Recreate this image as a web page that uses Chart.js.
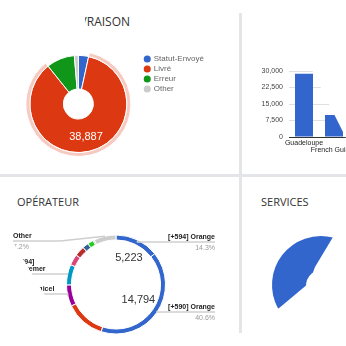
<!DOCTYPE html>
<html>
<head>
<meta charset="utf-8">
<script src="https://cdn.jsdelivr.net/npm/chart.js@4.4.1/dist/chart.umd.min.js"></script>
<style>
  html, body { margin: 0; padding: 0; width: 346px; height: 346px; overflow: hidden; background: #fff; }
  canvas { position: absolute; }
  .title { position: absolute; font-family: 'Open Sans', sans-serif; font-size: 11px; line-height: 16px; color: #333; white-space: nowrap; }
  .band-h { position: absolute; left: 0; top: 174px; width: 346px; height: 3px; background: #e3e5e8; }
  .band-v { position: absolute; left: 239px; top: 13px; width: 3px; height: 320px; background: #e3e5e8; }
  #paysWrap { position: absolute; left: 242px; top: 0; width: 104px; height: 174px; overflow: hidden;
              clip-path: polygon(0 0, 35px 0, 122px 174px, 0 174px); }
</style>
</head>
<body>

<div class="band-h"></div>
<div class="band-v"></div>

<div class="title" style="left:70px; top:14px; font-size:12px; clip-path: inset(0 0 0 15px);">LIVRAISON</div>
<canvas id="livraison" style="left:14px; top:51px;" width="200" height="106"></canvas>

<div id="paysWrap">
  <canvas id="pays" style="left:0; top:60px;" width="107" height="102"></canvas>
</div>

<div class="title" style="left:17px; top:194px;">OPÉRATEUR</div>
<canvas id="operateur" style="left:0; top:177px; clip-path: polygon(-26px 0, 238px 0, 238px 169px, 75px 169px);" width="238" height="169"></canvas>

<div class="title" style="left:261px; top:194px;">SERVICES</div>
<canvas id="services" style="left:262px; top:226px; clip-path: polygon(0 0, 74px 0, 71px 11px, 53px 41px, 47px 57px, 16px 83px, 0 99px);" width="118" height="118"></canvas>

<script>
// statut de livraison
const statutLabels = ['Statut-Envoyé', 'Livré', 'Erreur', 'Other'];
const statutValues = [1540, 38887, 4260, 600];
const statutColors = ['#3366cc', '#dc3912', '#109618', '#cccccc'];

// pays
const paysLabels = ['Guadeloupe', 'French Guiana'];
const paysValues = [28700, 10000];
const paysTicks = [0, 7500, 15000, 22500, 30000];

// opérateurs
const opLabels = ['[+594] Orange', '[+590] Orange', '[+590] SFR', '[+590] Digicel', '[+594] Outremer',
                  '[+594] Digicel', '[+590] Outremer', '[+594] SFR', '[+590] Dauphin', '[+596] Orange', 'Other'];
const opValues = [5223, 14794, 4740, 2550, 2440, 1310, 1200, 730, 700, 157, 2626];
const opColors = ['#3366cc', '#3366cc', '#dc3912', '#990099', '#0099c6', '#dd4477',
                  '#b82e2e', '#316395', '#22cc22', '#999999', '#cccccc'];

// services
const servLabels = ['SMS', 'Autres'];
const servValues = [37, 63];
const servColors = ['#3366cc', 'rgba(0,0,0,0)'];

const fmt = v => v.toLocaleString('en-US');

// texte dans les parts + étiquettes avec traits
const sliceLabels = {
    id: 'sliceLabels',
    afterDatasetsDraw(chart, args, opts) {
        const ds = opts.dataset || 0;
        const meta = chart.getDatasetMeta(ds);
        const data = chart.data.datasets[ds].data;
        const total = data.reduce((a, b) => a + b, 0);
        const ctx = chart.ctx;
        ctx.save();
        ctx.textBaseline = 'middle';

        (opts.inner || []).forEach(item => {
            const p = meta.data[item.index].getProps(['x', 'y', 'startAngle', 'endAngle', 'outerRadius'], true);
            const mid = (p.startAngle + p.endAngle) / 2;
            const r = p.outerRadius * item.r;
            ctx.font = item.font;
            ctx.fillStyle = item.color;
            ctx.textAlign = 'center';
            ctx.fillText(fmt(data[item.index]), p.x + Math.cos(mid) * r, p.y + Math.sin(mid) * r);
        });

        (opts.outer || []).forEach(item => {
            const p = meta.data[item.index].getProps(['x', 'y', 'startAngle', 'endAngle', 'outerRadius'], true);
            const mid = (p.startAngle + p.endAngle) / 2;
            const ax = p.x + Math.cos(mid) * p.outerRadius;
            const ay = p.y + Math.sin(mid) * p.outerRadius;
            ctx.strokeStyle = '#cfcfcf';
            ctx.lineWidth = 1.5;
            ctx.beginPath();
            ctx.moveTo(ax, ay);
            ctx.lineTo(item.elbow !== undefined ? item.elbow : ax, item.lineY);
            ctx.lineTo(item.x, item.lineY);
            ctx.stroke();

            ctx.textAlign = item.side === 'right' ? 'right' : 'left';
            const name = chart.data.labels[item.index];
            const lines = item.wrap ? [name.slice(0, name.indexOf(' ')), name.slice(name.indexOf(' ') + 1)] : [name];
            ctx.font = 'bold 7px "Liberation Sans", Arial, sans-serif';
            ctx.fillStyle = '#222';
            lines.forEach((ln, k) => ctx.fillText(ln, item.x, item.lineY - 5 - (lines.length - 1 - k) * 7));
            ctx.font = '7px "Liberation Sans", Arial, sans-serif';
            ctx.fillStyle = '#999';
            ctx.fillText((data[item.index] / total * 100).toFixed(1) + '%', item.x, item.lineY + 6);
        });
        ctx.restore();
    }
};

// 1. LIVRAISON
new Chart(document.getElementById('livraison'), {
    type: 'doughnut',
    plugins: [sliceLabels],
    data: {
        labels: statutLabels,
        datasets: [{
            data: statutValues,
            backgroundColor: statutColors.map((c, i) => i === 1 ? '#f6c9c1' : 'rgba(0,0,0,0)'),
            borderColor: statutColors.map((c, i) => i === 1 ? '#fff' : 'rgba(0,0,0,0)'),
            borderWidth: 1,
            weight: 4
        }, {
            data: statutValues,
            backgroundColor: statutColors,
            borderColor: '#fff',
            borderWidth: 1,
            weight: 34
        }]
    },
    options: {
        responsive: false,
        animation: false,
        cutout: 15,
        hoverOffset: 0,
        offset: 0,
        plugins: {
            tooltip: { enabled: false },
            legend: {
                position: 'right',
                align: 'start',
                title: { display: true, text: '', font: { size: 2, lineHeight: 1 }, padding: 0 },
                labels: {
                    usePointStyle: true,
                    boxWidth: 5,
                    boxHeight: 5,
                    padding: 2,
                    color: '#222',
                    font: { size: 8, family: '"Liberation Sans", Arial, sans-serif' },
                    generateLabels: () => statutLabels.map((text, i) => ({
                        text, fillStyle: statutColors[i], strokeStyle: statutColors[i],
                        lineWidth: 0, pointStyle: 'circle', hidden: false, index: i
                    }))
                }
            },
            sliceLabels: {
                dataset: 1,
                inner: [{ index: 1, r: 0.69, color: '#fff', font: '11px "Liberation Sans", Arial, sans-serif' }]
            }
        }
    }
});

// 2. PAYS (barres)
new Chart(document.getElementById('pays'), {
    type: 'bar',
    data: {
        labels: paysLabels,
        datasets: [{
            data: paysValues,
            backgroundColor: '#3366cc',
            barPercentage: 0.6,
            categoryPercentage: 1
        }]
    },
    options: {
        responsive: false,
        animation: false,
        layout: { padding: { top: 11 } },
        plugins: { legend: { display: false }, tooltip: { enabled: false } },
        scales: {
            y: {
                min: 0,
                max: 30000,
                afterFit: s => { s.width = 47; },
                afterBuildTicks: s => { s.ticks = paysTicks.map(v => ({ value: v })); },
                border: { display: false },
                grid: { drawTicks: false, color: c => c.tick.value === 0 ? '#333' : '#e0e0e0' },
                ticks: { padding: 6, color: '#444', font: { size: 7, family: '"Liberation Sans", Arial, sans-serif' }, callback: v => fmt(v) }
            },
            x: {
                afterFit: s => { s.height = 25; s.paddingLeft = 0; s.paddingRight = 0; },
                border: { display: false },
                grid: { display: false, drawTicks: false },
                ticks: {
                    padding: 3, maxRotation: 0, autoSkip: false, color: '#222',
                    font: { size: 7, lineHeight: 1, family: '"Liberation Sans", Arial, sans-serif' },
                    callback: (v, i) => i % 2 ? ['', paysLabels[i]] : paysLabels[i]
                }
            }
        }
    }
});

// 3. OPÉRATEUR
new Chart(document.getElementById('operateur'), {
    type: 'doughnut',
    plugins: [sliceLabels],
    data: {
        labels: opLabels,
        datasets: [{
            data: opValues,
            backgroundColor: opColors,
            borderColor: '#fff',
            borderWidth: 1
        }]
    },
    options: {
        responsive: false,
        animation: false,
        cutout: '90%',
        hoverOffset: 0,
        layout: { padding: { left: 66, right: 72, top: 57.5, bottom: 11.5 } },
        plugins: {
            legend: { display: false },
            tooltip: { enabled: false },
            sliceLabels: {
                inner: [
                    { index: 0, r: 0.6, color: '#333', font: '11px "Liberation Sans", Arial, sans-serif' },
                    { index: 1, r: 0.55, color: '#333', font: '11px "Liberation Sans", Arial, sans-serif' }
                ],
                outer: [
                    { index: 0, side: 'right', x: 215, lineY: 65 },
                    { index: 1, side: 'right', x: 215, lineY: 135 },
                    { index: 10, side: 'left', x: 13, lineY: 64, elbow: 60 },
                    { index: 4, side: 'left', x: 14, lineY: 97, wrap: true },
                    { index: 3, side: 'left', x: 9, lineY: 117 }
                ]
            }
        }
    }
});

// 4. SERVICES
new Chart(document.getElementById('services'), {
    type: 'doughnut',
    data: {
        labels: servLabels,
        datasets: [{
            data: servValues,
            backgroundColor: servColors,
            borderWidth: 0
        }]
    },
    options: {
        responsive: false,
        animation: false,
        cutout: '30%',
        rotation: 241,
        hoverOffset: 0,
        layout: { padding: 10 },
        plugins: { legend: { display: false }, tooltip: { enabled: false } }
    }
});
</script>
</body>
</html>
